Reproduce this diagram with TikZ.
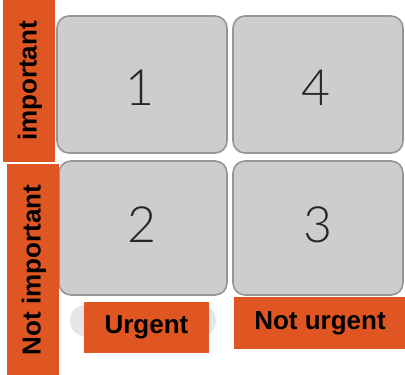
\documentclass[tikz,border=0pt]{standalone}
\usepackage{fontspec}
\setmainfont{Liberation Sans}
\newfontfamily\numfont{Lato Light}
\definecolor{lab}{RGB}{224,86,34}
\definecolor{cellfill}{RGB}{205,205,205}
\definecolor{cellline}{RGB}{150,150,150}
\definecolor{pill}{RGB}{230,230,230}
\tikzset{
  cell/.style={draw=cellline, line width=1.6pt, fill=cellfill, rounded corners=12pt},
  num/.style={font=\numfont\fontsize{50}{50}\selectfont, text=black!85},
  tag/.style={fill=lab, inner sep=0pt},
  tagtext/.style={font=\bfseries\fontsize{26}{26}\selectfont, text=black, inner sep=0pt},
}
\begin{document}
\begin{tikzpicture}[x=1pt,y=-1pt]
\useasboundingbox (0,0) rectangle (405,375);
% cells
\draw[cell] (57,16) rectangle (227,153);
\draw[cell] (233,16) rectangle (403,153);
\draw[cell] (59,161) rectangle (227,295);
\draw[cell] (233,161) rectangle (403,295);
\node[num] (n1) at (140,88) {1};
\node[num] (n4) at (316,88) {4};
\node[num] (n2) at (142,225) {2};
\node[num] (n3) at (318,225) {3};
% pill
\fill[pill, rounded corners=15pt] (70,305) rectangle (216,336);
% side tags
\fill[tag] (3,0) rectangle (55,162);
\node[tagtext, rotate=90] (imp) at (30,81) {important};
\fill[tag] (7,164) rectangle (59,375);
\node[tagtext, rotate=90] (nimp) at (34,270) {Not important};
% bottom tags
\fill[tag] (84,302) rectangle (209,353);
\node[tagtext] (urg) at (146.5,327.5) {Urgent};
\fill[tag] (234,297) rectangle (405,349);
\node[tagtext] (nurg) at (320,323) {Not urgent};
\end{tikzpicture}
\end{document}
